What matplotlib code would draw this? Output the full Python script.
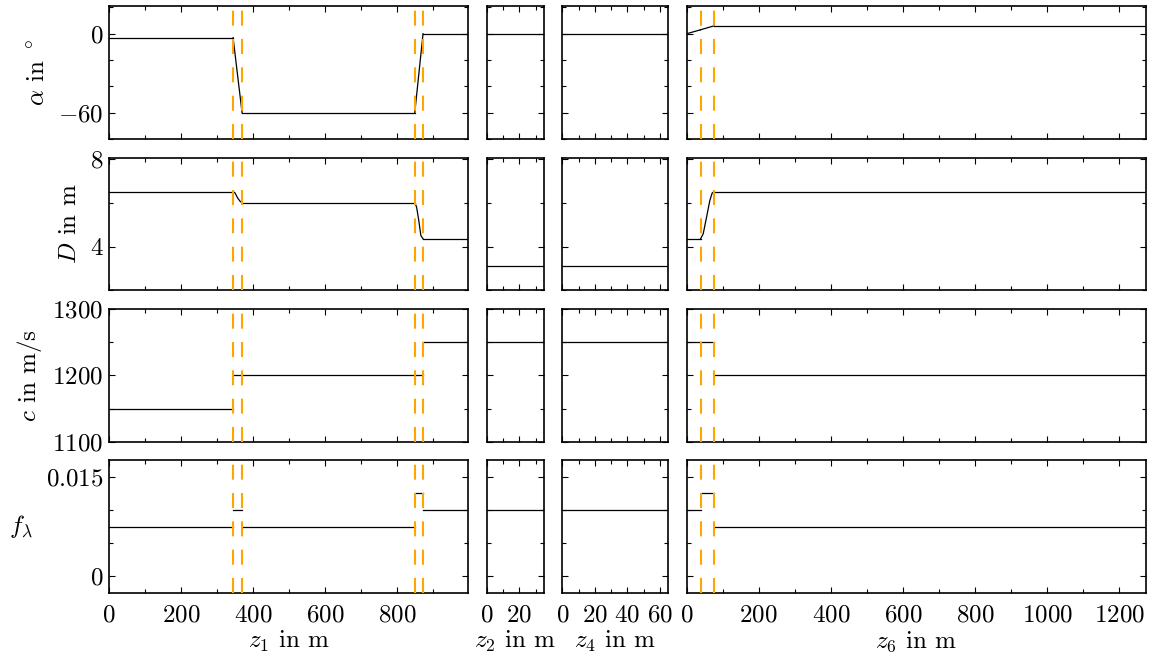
import matplotlib
matplotlib.use("Agg")
import matplotlib.pyplot as plt
from matplotlib.ticker import MultipleLocator, FuncFormatter

plt.rcParams["font.family"] = "cmr10"
plt.rcParams["mathtext.fontset"] = "cm"
plt.rcParams["axes.formatter.use_mathtext"] = True
plt.rcParams["font.size"] = 18

# pipe sections, one list of x per segment
z1_x = [[0, 345], [345, 370], [370, 850], [850, 873], [873, 998]]
z1_D_x = [[0, 345], [345, 350, 358, 365, 370], [370, 850], [850, 855, 861, 867, 873], [873, 998]]
z2_x = [[0, 35]]
z4_x = [[0, 65]]
z6_x = [[0, 38.6], [38.6, 76], [76, 1273]]
z6_D_x = [[0, 38.6], [38.6, 46, 55.3, 64.4, 70.9, 76], [76, 1273]]

alpha_1 = [[-3, -3], [-3, -60], [-60, -60], [-60, 0], [0, 0]]
alpha_2 = [[0, 0]]
alpha_4 = [[0, 0]]
alpha_6 = [[0, 3], [3, 6], [6, 6]]

D_1 = [[6.5, 6.5], [6.5, 6.45, 6.2, 6.05, 6.0], [6.0, 6.0], [6.0, 5.8, 5.2, 4.5, 4.35], [4.35, 4.35]]
D_2 = [[3.1, 3.1]]
D_4 = [[3.1, 3.1]]
D_6 = [[4.35, 4.35], [4.35, 4.58, 5.34, 6.1, 6.44, 6.5], [6.5, 6.5]]

c_1 = [[1150, 1150], [1200, 1200], [1200, 1200], [1200, 1200], [1250, 1250]]
c_2 = [[1250, 1250]]
c_4 = [[1250, 1250]]
c_6 = [[1250, 1250], [1250, 1250], [1200, 1200]]

f_1 = [[0.0075, 0.0075], [0.01, 0.01], [0.0075, 0.0075], [0.0125, 0.0125], [0.01, 0.01]]
f_2 = [[0.01, 0.01]]
f_4 = [[0.01, 0.01]]
f_6 = [[0.01, 0.01], [0.0125, 0.0125], [0.0075, 0.0075]]

# section borders (dashed orange)
borders_1 = [345, 370, 850, 873]
borders_2 = []
borders_4 = []
borders_6 = [38.6, 76]

xlims = [998, 35, 65, 1273]
x_major = [200, 20, 20, 200]
x_minor = [100, 10, 10, 100]
xlabels = [r"$z_1$ in m", r"$z_2$ in m", r"$z_4$ in m", r"$z_6$ in m"]

ylabels = [r"$\alpha$ in $^\circ$", r"$D$ in m", r"$c$ in m/s", r"$f_\lambda$"]
ylims = [(-80, 20.8), (2, 8.05), (1100, 1300), (-0.0025, 0.0175)]
y_major = [60, 4, 100, 0.015]
y_minor = [20, 2, 50, 0.005]

xs = [
    [z1_x, z2_x, z4_x, z6_x],
    [z1_D_x, z2_x, z4_x, z6_D_x],
    [z1_x, z2_x, z4_x, z6_x],
    [z1_x, z2_x, z4_x, z6_x],
]
ys = [
    [alpha_1, alpha_2, alpha_4, alpha_6],
    [D_1, D_2, D_4, D_6],
    [c_1, c_2, c_4, c_6],
    [f_1, f_2, f_4, f_6],
]
borders = [borders_1, borders_2, borders_4, borders_6]

fig, axes = plt.subplots(
    4, 4, figsize=(11.52, 6.58), dpi=100, sharex="col", sharey="row",
    gridspec_kw=dict(width_ratios=[359, 57, 105.7, 459], left=0.0946, right=0.9945,
                     top=0.9904, bottom=0.0988, hspace=0.138, wspace=0.076),
)

fmt = FuncFormatter(lambda v, p: "$%g$" % round(v, 6))

for i in range(4):
    for j in range(4):
        ax = axes[i, j]
        for sx, sy in zip(xs[i][j], ys[i][j]):
            ax.plot(sx, sy, color="black", lw=0.9, zorder=2)
        for b in borders[j]:
            ax.axvline(b, color="#FFA500", lw=1.5, dashes=(7.2, 6.4), zorder=3)
        ax.set_xlim(0, xlims[j])
        ax.set_ylim(*ylims[i])
        ax.xaxis.set_major_locator(MultipleLocator(x_major[j]))
        ax.xaxis.set_minor_locator(MultipleLocator(x_minor[j]))
        ax.yaxis.set_major_locator(MultipleLocator(y_major[i]))
        ax.yaxis.set_minor_locator(MultipleLocator(y_minor[i]))
        ax.xaxis.set_major_formatter(fmt)
        ax.yaxis.set_major_formatter(fmt)
        ax.tick_params(which="both", direction="in", top=True, right=True, width=0.8, labelsize=18)
        ax.tick_params(which="major", length=4)
        ax.tick_params(axis="x", which="major", pad=8)
        ax.tick_params(axis="y", which="major", pad=4)
        ax.tick_params(which="minor", length=3)
        for s in ax.spines.values():
            s.set_linewidth(1.2)
        if i == 3:
            ax.set_xlabel(xlabels[j], fontsize=18, labelpad=2)
    if i < 3:
        axes[i, 0].set_ylabel(ylabels[i], fontsize=18, labelpad=6)
    else:
        axes[i, 0].set_ylabel(ylabels[i], fontsize=18, rotation=0, ha="center", va="center")
        axes[i, 0].yaxis.set_label_coords(-0.245, 0.5)

fig.savefig("out.png", dpi=100)
